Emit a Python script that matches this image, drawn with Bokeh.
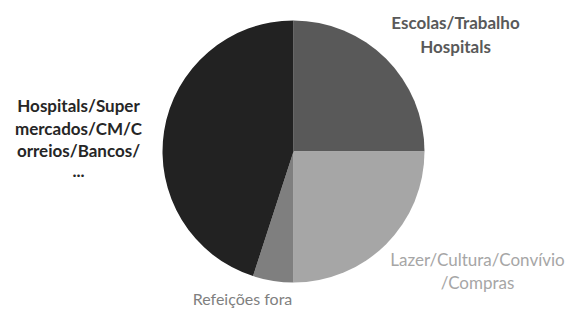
from bokeh.plotting import figure
from bokeh.models import Range1d, ColumnDataSource
from bokeh.core.properties import value
from bokeh.embed import file_html
from bokeh.resources import INLINE
import math

categories = ["Escolas/Trabalho Hospitals", "Lazer/Cultura/Convívio/Compras",
              "Refeições fora", "Hospitals/Supermercados/CM/Correios/Bancos/..."]
values = [25, 25, 5, 45]
colors = ["#595959", "#a6a6a6", "#7f7f7f", "#222222"]

W, H = 574, 313
p = figure(width=W, height=H, output_backend="svg", toolbar_location=None,
           x_range=Range1d(0, W), y_range=Range1d(0, H), min_border=0)
p.axis.visible = False
p.grid.visible = False
p.outline_line_color = None
p.background_fill_color = "white"


def X(ix):
    return ix


def Y(iy):
    return H - iy


total = sum(values)
starts, ends = [], []
a = math.pi / 2
for v in values:
    starts.append(a)
    a -= 2 * math.pi * v / total
    ends.append(a)

src = ColumnDataSource(dict(start=starts, end=ends, color=colors, cat=categories))
p.wedge(x=X(293), y=Y(151), radius=131, radius_units="screen",
        start_angle="start", end_angle="end", direction="clock",
        fill_color="color", line_color=None, source=src)

font = value("Lato")

def lab(lines, ix, iys, color, bold, size="17px"):
    p.text(x=[X(ix)] * len(lines), y=[Y(iy) for iy in iys], text=lines,
           text_font=font, text_font_size=size,
           text_font_style="bold" if bold else "normal",
           text_color=color, text_align="center", text_baseline="middle")

lab(["Escolas/Trabalho", "Hospitals"], 455, [22, 46], "#595959", True)
lab(["Hospitals/Super", "mercados/CM/C", "orreios/Bancos/", "..."], 78,
    [105, 128, 150, 170], "#262626", True)
lab(["Lazer/Cultura/Convívio", "/Compras"], 477, [259, 282], "#a6a6a6", False)
lab(["Refeições fora"], 242, [298], "#7f7f7f", False, "16px")

open("out.html", "w").write(file_html(p, INLINE))
